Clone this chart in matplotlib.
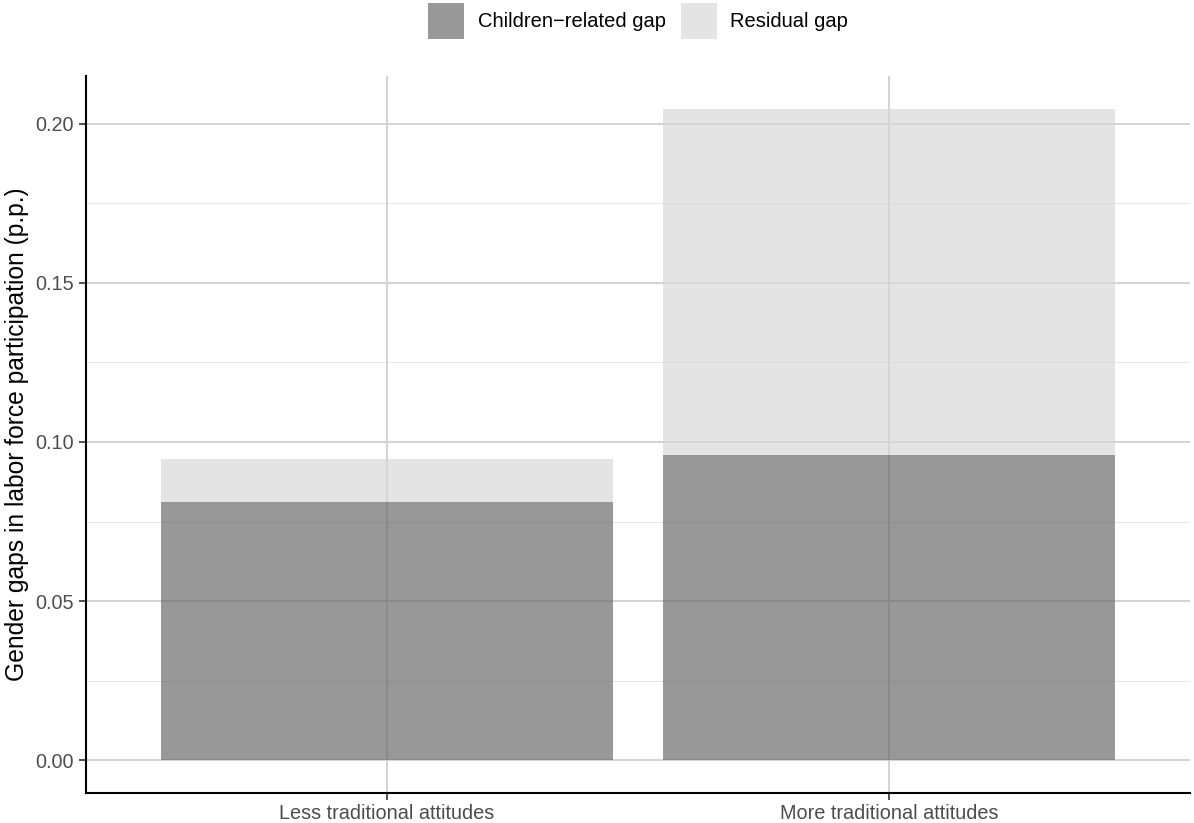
import matplotlib
matplotlib.use("Agg")
import matplotlib.pyplot as plt
from matplotlib.patches import Patch
import numpy as np

plt.rcParams['font.family'] = ['Liberation Sans', 'DejaVu Sans']

categories = ["Less traditional attitudes", "More traditional attitudes"]
children_gap = [0.0811, 0.0959]
residual_gap = [0.0136, 0.1088]
series_labels = ["Children\u2212related gap", "Residual gap"]
y_ticks = [0.00, 0.05, 0.10, 0.15, 0.20]
y_minor = [0.025, 0.075, 0.125, 0.175]

fig = plt.figure(figsize=(11.94, 8.23), dpi=100)
ax = fig.add_axes([86/1194, 1-793/823, (1190-86)/1194, (793-76)/823])

x = np.arange(1, len(categories) + 1)
alpha = 0.67
dark = "#666666"
light = "#d7d7d7"

# grid
for yv in y_ticks:
    ax.axhline(yv, color="#d0d0d0", lw=1.3, zorder=0)
for yv in y_minor:
    ax.axhline(yv, color="#e6e6e6", lw=0.7, zorder=0)
for xv in x:
    ax.axvline(xv, color="#d0d0d0", lw=1.3, zorder=0)

ax.bar(x, children_gap, width=0.9, color=dark, alpha=alpha, lw=0, zorder=2)
ax.bar(x, residual_gap, bottom=children_gap, width=0.9, color=light, alpha=alpha, lw=0, zorder=2)

ax.set_xlim(0.4, 2.6)
total_max = max(c + r for c, r in zip(children_gap, residual_gap))
ax.set_ylim(-0.05 * total_max, 1.05 * total_max)
ax.set_xticks(x)
ax.set_xticklabels(categories)
ax.set_yticks(y_ticks)
ax.set_yticklabels([f"{v:.2f}" for v in y_ticks])

for s in ["top", "right"]:
    ax.spines[s].set_visible(False)
for s in ["left", "bottom"]:
    ax.spines[s].set_linewidth(1.5)
    ax.spines[s].set_color("black")
ax.tick_params(axis="both", colors="#333333", labelcolor="#4d4d4d", labelsize=14.3, length=5, width=1.2)
ax.tick_params(axis="x", pad=3)
ax.tick_params(axis="y", pad=3.5)
ax.set_ylabel("Gender gaps in labor force participation (p.p.)", fontsize=17.7, labelpad=5, color="black")

handles = [Patch(facecolor=dark, alpha=alpha, lw=0), Patch(facecolor=light, alpha=alpha, lw=0)]
fig.legend(handles, series_labels, loc="center", bbox_to_anchor=(638/1194, 1-21/823), ncol=2, frameon=False,
           fontsize=14.5, handlelength=1.8, handleheight=2.3, handletextpad=0.65, columnspacing=0.75,
           borderaxespad=0.0, borderpad=0.0)

fig.savefig("out.png", dpi=100)
